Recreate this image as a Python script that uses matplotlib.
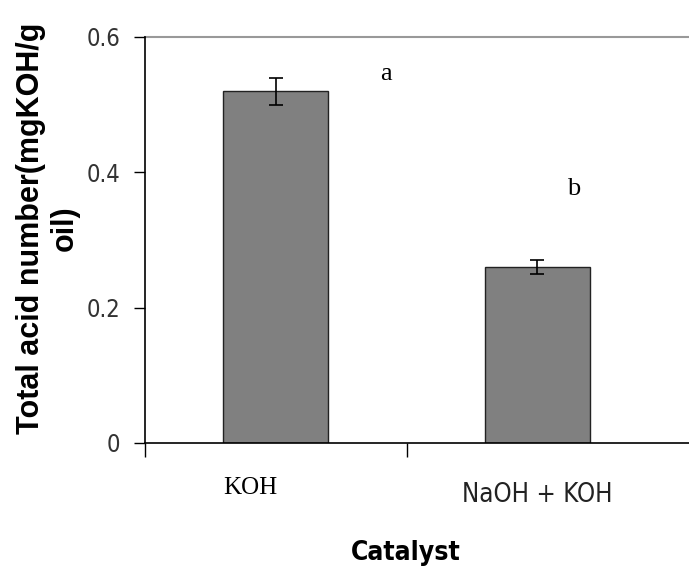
import matplotlib
matplotlib.use("Agg")
import matplotlib.pyplot as plt

categories = ["KOH", "NaOH + KOH"]
values = [0.52, 0.26]
errors = [0.02, 0.01]
letters = ["a", "b"]
letter_pos = [(0.40, 0.545), (1.115, 0.375)]
yticks = [0, 0.2, 0.4, 0.6]
ytick_labels = ["0", "0.2", "0.4", "0.6"]

fig = plt.figure(figsize=(6.89, 5.76), dpi=100)
ax = fig.add_axes([145/689, 1-443/576, 1-145/689, (443-37)/576])

x = list(range(len(categories)))
ax.bar(x, values, width=0.4, color="#808080", edgecolor="#222222", linewidth=1.0, zorder=2)
ax.errorbar(x, values, yerr=errors, fmt="none", ecolor="black", elinewidth=1.2,
            capsize=5, capthick=1.2, zorder=3)

ax.set_xlim(-0.5, 1.58)
ax.set_ylim(0, 0.6)
ax.set_yticks(yticks)
ax.set_yticklabels(ytick_labels, fontsize=17, color="#333333", family="DejaVu Sans",
                   fontstretch="condensed")
ax.set_xticks([-0.5, 0.5])
ax.set_xticklabels([])
ax.tick_params(axis="y", direction="out", length=8, width=1.0, pad=10)
ax.tick_params(axis="x", direction="out", length=10, width=1.0)
ax.axhline(0.6, color="#999999", linewidth=1.5, zorder=1, clip_on=False)
for s in ["top", "right"]:
    ax.spines[s].set_visible(False)
ax.spines["left"].set_linewidth(1.2)
ax.spines["bottom"].set_linewidth(1.2)

# category labels
fig.text(250/689, 1-488/576, categories[0], ha="center", va="center",
         fontsize=18, family="Liberation Serif")
fig.text(537/689, 1-495/576, categories[1], ha="center", va="center",
         fontsize=18.5, family="DejaVu Sans", fontstretch="condensed", color="#222222")

for (lx, ly), t in zip(letter_pos, letters):
    ax.text(lx, ly, t, ha="left", va="center", fontsize=19, family="Liberation Serif")

fig.text(406/689, 1-553/576, "Catalyst", ha="center", va="center", fontsize=19,
         fontweight="bold", family="DejaVu Sans", fontstretch="condensed")
fig.text(48/689, 1-228/576, "Total acid number(mgKOH/g\noil)", ha="center", va="center",
         rotation=90, fontsize=22, fontweight="bold", family="Liberation Sans", linespacing=1.15)

fig.savefig("out.png", dpi=100)
